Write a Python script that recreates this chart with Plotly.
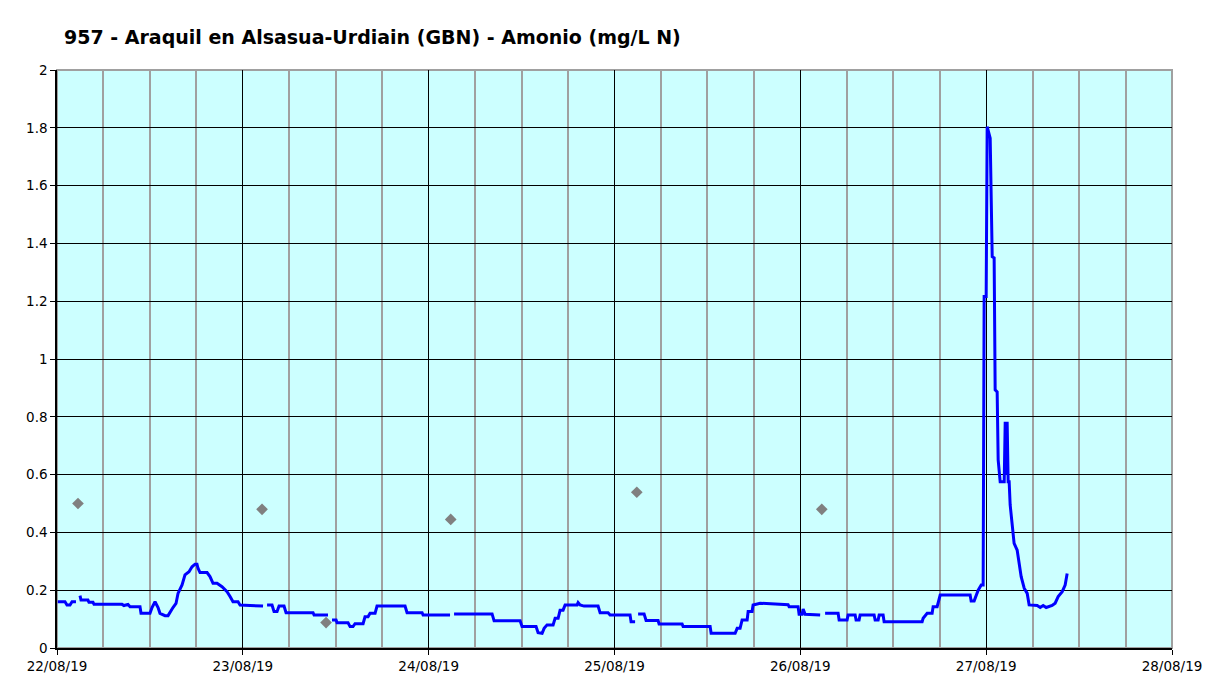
import plotly.graph_objects as go
import pandas as pd

start = pd.Timestamp("2019-08-22 00:00")

# Continuous sensor series: hours after 22/08/19 00:00 and value (mg/L N); None = gap
hours = [0.1, 1.03, 1.29, 1.68, 1.94, 2.45, 2.6,
         2.97, 3.10, 4.0, 4.13, 4.65, 4.78, 8.40, 8.65, 9.17, 9.43, 10.72, 10.85, 12.01,
         12.27, 12.66, 13.05, 13.30, 13.95, 14.34, 14.60, 14.98, 15.37, 15.63, 16.15, 16.53,
         17.05, 17.44, 17.83, 18.08, 18.21, 18.47, 19.38, 19.76, 20.15, 20.67, 21.31, 21.96,
         22.35, 22.73, 23.38, 23.64, 24.93, 26.61, 26.8,
         27.13, 27.77, 28.03, 28.42, 28.68, 29.32, 29.58, 33.07, 33.20, 35.0, 35.2,
         35.52, 36.04, 36.17, 37.59, 37.85, 38.23, 38.49, 39.53, 39.78, 40.17, 40.43, 41.08,
         41.33, 44.95, 45.21, 47.15, 47.28, 50.76, 51.0,
         51.28, 56.19, 56.45, 59.81, 60.06, 61.87, 62.13, 62.65, 62.91, 63.29, 64.07, 64.33,
         64.72, 64.97, 65.36, 65.62, 67.17, 67.30, 67.55, 68.07, 69.88, 70.14, 71.17, 71.43,
         74.01, 74.14, 74.66, 74.85,
         75.05, 75.82, 76.08, 77.63, 77.76, 80.73, 80.86, 84.35, 84.48, 87.58, 87.84, 88.22,
         88.48, 89.13, 89.26, 89.77, 89.90, 90.81, 94.42, 94.55, 95.71, 95.84, 96.23, 96.36,
         96.62, 98.56, 98.9,
         99.20, 100.88, 101.01, 102.04, 102.17, 103.08, 103.20, 103.59, 103.72, 105.53,
         105.66, 106.05, 106.18, 106.69, 106.82, 111.73, 111.86, 112.38, 113.02, 113.15,
         113.67, 114.06, 117.93, 118.06, 118.45, 118.71, 118.97, 119.36, 119.61, 119.74,
         120.0, 120.13, 120.39, 120.52, 120.78, 121.03, 121.16, 121.42, 121.55, 121.81,
         122.33, 122.46, 122.58, 122.71, 122.84, 122.97, 123.10, 123.36, 123.61, 124.0,
         124.26, 124.52, 124.91, 125.30, 125.55, 126.59, 126.98, 127.36, 127.75, 128.52,
         128.91, 129.30, 129.82, 130.20, 130.46]
values = [0.16, 0.16, 0.149, 0.149, 0.16, 0.16, None,
          0.181, 0.166, 0.166, 0.158, 0.158, 0.151, 0.151, 0.147, 0.151, 0.143, 0.143, 0.12, 0.12,
          0.14, 0.16, 0.14, 0.12, 0.112, 0.112, 0.124, 0.14, 0.154, 0.189, 0.218, 0.253,
          0.264, 0.281, 0.29, 0.29, 0.276, 0.261, 0.261, 0.247, 0.224, 0.224, 0.212, 0.195,
          0.178, 0.16, 0.16, 0.149, 0.147, 0.145, None,
          0.149, 0.149, 0.126, 0.126, 0.145, 0.145, 0.122, 0.122, 0.114, 0.114, None,
          0.097, 0.097, 0.087, 0.087, 0.074, 0.074, 0.084, 0.084, 0.108, 0.108, 0.12, 0.12,
          0.145, 0.145, 0.122, 0.122, 0.114, 0.114, None,
          0.118, 0.118, 0.094, 0.094, 0.074, 0.074, 0.053, 0.051, 0.068, 0.08, 0.08, 0.103,
          0.103, 0.131, 0.131, 0.149, 0.149, 0.157, 0.149, 0.145, 0.145, 0.122, 0.122, 0.114,
          0.114, 0.091, 0.091, None,
          0.118, 0.118, 0.095, 0.095, 0.083, 0.083, 0.074, 0.074, 0.051, 0.051, 0.068, 0.068,
          0.097, 0.097, 0.126, 0.126, 0.149, 0.155, 0.15, 0.143, 0.143, 0.117, 0.117, 0.135,
          0.117, 0.114, None,
          0.12, 0.12, 0.097, 0.097, 0.114, 0.114, 0.097, 0.097, 0.114, 0.114,
          0.097, 0.097, 0.114, 0.114, 0.091, 0.091, 0.103, 0.12, 0.12, 0.143,
          0.143, 0.183, 0.183, 0.163, 0.163, 0.183, 0.2, 0.218, 0.218, 1.216,
          1.216, 1.804, 1.78, 1.764, 1.354, 1.35, 0.893, 0.886, 0.651, 0.575,
          0.575, 0.783, 0.60, 0.783, 0.575, 0.575, 0.495, 0.414, 0.362, 0.339,
          0.299, 0.247, 0.207, 0.189, 0.149, 0.147, 0.14, 0.147, 0.14, 0.147,
          0.155, 0.178, 0.195, 0.218, 0.258]

# Laboratory samples (grey points)
sample_hours = [2.71, 26.48, 34.75, 50.85, 74.88, 98.77]
sample_values = [0.50, 0.48, 0.088, 0.445, 0.539, 0.48]

x_line = [start + pd.Timedelta(hours=h) for h in hours]
x_samp = [start + pd.Timedelta(hours=h) for h in sample_hours]

fig = go.Figure()
fig.add_trace(go.Scatter(x=x_line, y=values, mode="lines",
                         line=dict(color="#0000FF", width=3),
                         connectgaps=False, showlegend=False))
fig.add_trace(go.Scatter(x=x_samp, y=sample_values, mode="markers",
                         marker=dict(color="#808080", symbol="diamond", size=9),
                         showlegend=False))

font = "DejaVu Sans, Verdana, sans-serif"
# page body has an 8px margin, so the figure is sized and offset accordingly
W, H = 1200, 681
fig.update_layout(
    width=W, height=H,
    margin=dict(l=49, r=36, t=62, b=41, autoexpand=False),
    paper_bgcolor="white", plot_bgcolor="#CCFFFF",
    title=dict(text="<b>957 - Araquil en Alsasua-Urdiain (GBN) - Amonio (mg/L N)</b>",
               x=56 / W, xanchor="left", xref="container",
               y=1 - 29 / H, yanchor="middle", yref="container",
               font=dict(family=font, size=19, color="black")),
    font=dict(family=font, size=13, color="black"),
)
fig.update_xaxes(
    type="date", automargin=False,
    range=["2019-08-22", "2019-08-28"],
    dtick=86400000, tickformat="%d/%m/%y", tick0="2019-08-22",
    showgrid=True, gridcolor="black", gridwidth=1,
    minor=dict(dtick=6 * 3600 * 1000, showgrid=True, gridcolor="#a0a0a0", gridwidth=2),
    ticks="outside", ticklen=5, tickcolor="black",
    showline=True, linecolor="black", linewidth=1.5, mirror=False,
    zeroline=False, tickfont=dict(family=font, size=13.5),
)
fig.update_yaxes(
    range=[0, 2], dtick=0.2, tick0=0, automargin=False,
    showgrid=True, gridcolor="black", gridwidth=1,
    ticks="outside", ticklen=5, tickcolor="black",
    showline=True, linecolor="black", linewidth=1.5,
    zeroline=False, tickfont=dict(family=font, size=13.5),
)
# grey border on top and right of the plot area
fig.add_shape(type="rect", xref="paper", yref="paper", x0=0, y0=0, x1=1, y1=1,
              line=dict(color="#a0a0a0", width=2), layer="below")

fig.write_html("out.html")
